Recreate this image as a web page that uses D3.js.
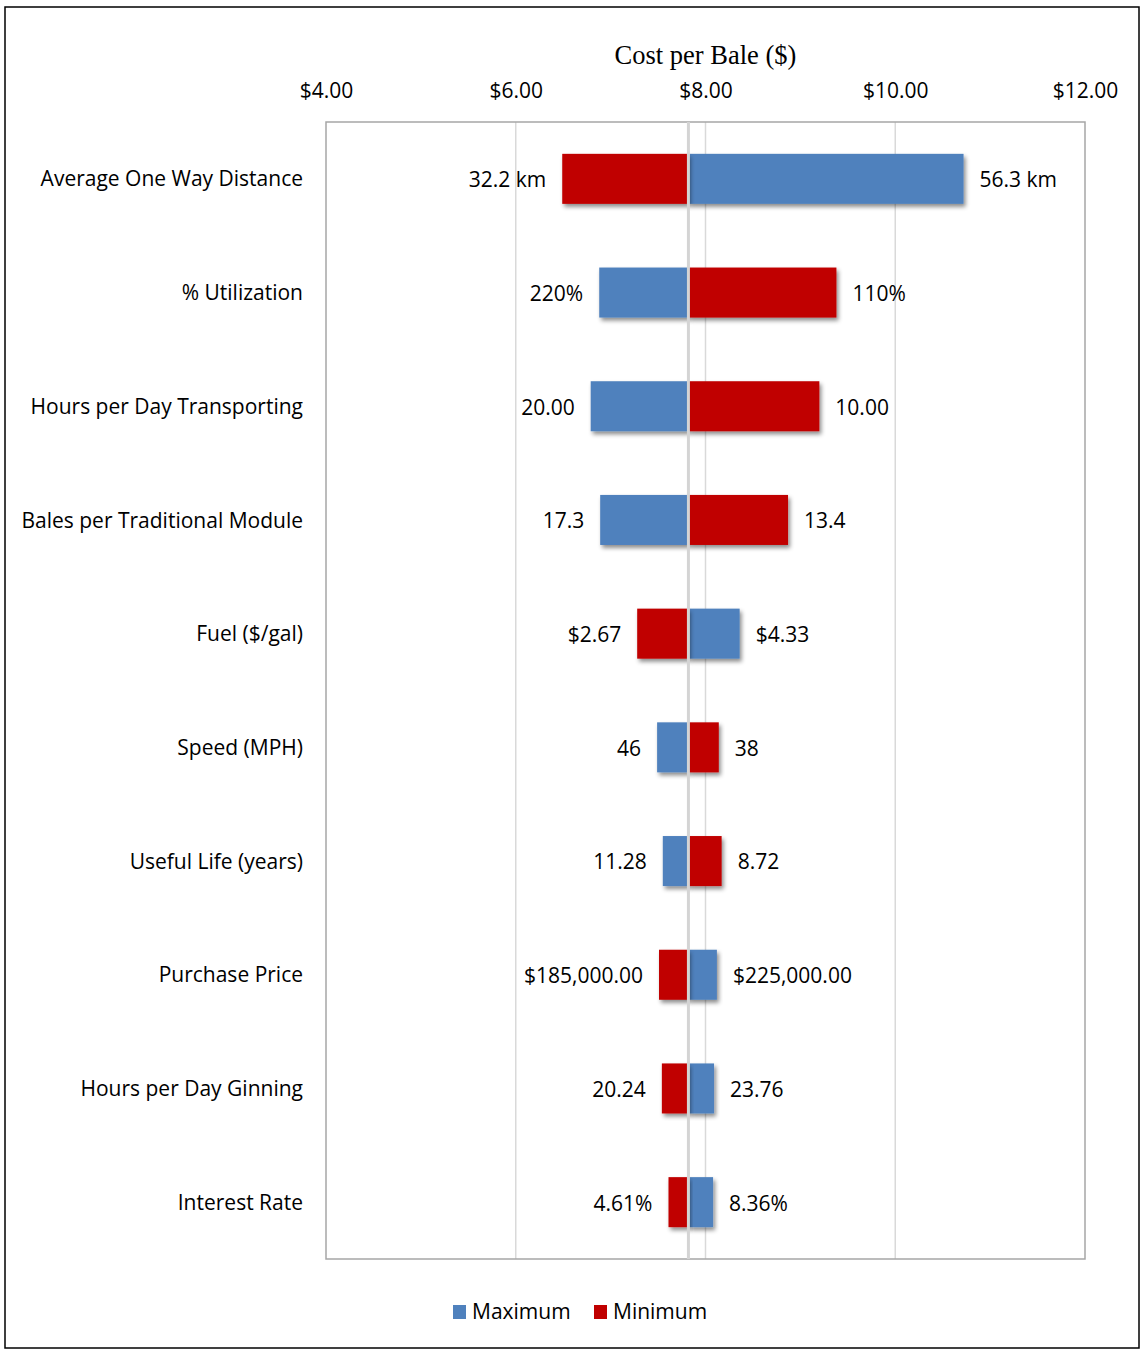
<!DOCTYPE html>
<html>
<head>
<meta charset="utf-8">
<script src="https://cdn.jsdelivr.net/npm/d3@7"></script>
<style>
  html, body { margin: 0; padding: 0; background: #fff; }
  svg { display: block; }
  text { font-family: "Open Sans", "Noto Sans", sans-serif; fill: #000; }
</style>
</head>
<body>
<svg id="chart" width="1142" height="1350"></svg>
<script>
// Sensitivity of cost per bale to each input, tested at its maximum and minimum value
const categories = [
  "Average One Way Distance",
  "% Utilization",
  "Hours per Day Transporting",
  "Bales per Traditional Module",
  "Fuel ($/gal)",
  "Speed (MPH)",
  "Useful Life (years)",
  "Purchase Price",
  "Hours per Day Ginning",
  "Interest Rate"
];
// Cost per bale ($) when the input is set to its maximum value
const maxCost = [10.72, 6.88, 6.79, 6.89, 8.36, 7.49, 7.55, 8.12, 8.09, 8.08];
// Cost per bale ($) when the input is set to its minimum value
const minCost = [6.49, 9.38, 9.20, 8.87, 7.28, 8.14, 8.17, 7.51, 7.54, 7.61];
// Input values shown next to each bar
const maxLabels = ["56.3 km", "220%", "20.00", "17.3", "$4.33", "46", "11.28", "$225,000.00", "23.76", "8.36%"];
const minLabels = ["32.2 km", "110%", "10.00", "13.4", "$2.67", "38", "8.72", "$185,000.00", "20.24", "4.61%"];
// Base-case cost per bale
const baseCost = 7.82;
const xTicks = [4, 6, 8, 10, 12];
const seriesNames = ["Maximum", "Minimum"];

const colors = { Maximum: "#4F81BD", Minimum: "#C00000" };

const svg = d3.select("#chart");
const plot = { left: 326, right: 1085, top: 122, bottom: 1259 };

// Outer frame
svg.append("rect")
  .attr("x", 5).attr("y", 7).attr("width", 1134).attr("height", 1341)
  .attr("fill", "#fff").attr("stroke", "#000").attr("stroke-width", 1.5);

const defs = svg.append("defs");
const shadow = defs.append("filter").attr("id", "barShadow")
  .attr("x", "-20%").attr("y", "-20%").attr("width", "140%").attr("height", "150%");
shadow.append("feDropShadow")
  .attr("dx", 2).attr("dy", 3).attr("stdDeviation", 2)
  .attr("flood-color", "#000").attr("flood-opacity", 0.45);

const x = d3.scaleLinear().domain([4, 12]).range([plot.left, plot.right]);
const y = d3.scaleBand().domain(categories)
  .range([plot.top, plot.bottom]).paddingInner(0.56).paddingOuter(0.28);

// Vertical gridlines
svg.append("g").selectAll("line").data(xTicks.slice(1, -1)).join("line")
  .attr("x1", d => x(d)).attr("x2", d => x(d))
  .attr("y1", plot.top).attr("y2", plot.bottom)
  .attr("stroke", "#d9d9d9").attr("stroke-width", 1.5);

// Plot area border
svg.append("rect")
  .attr("x", plot.left).attr("y", plot.top)
  .attr("width", plot.right - plot.left).attr("height", plot.bottom - plot.top)
  .attr("fill", "none").attr("stroke", "#a6a6a6").attr("stroke-width", 1.5);

// Top axis tick labels
const xAxis = d3.axisTop(x).tickValues(xTicks).tickSize(0).tickPadding(0)
  .tickFormat(d => "$" + d3.format(".2f")(d));
const gx = svg.append("g").attr("transform", `translate(0,${plot.top - 24})`).call(xAxis);
gx.select(".domain").remove();
gx.selectAll("text").attr("font-size", 21).attr("font-family", "'Open Sans', sans-serif").attr("fill", "#000");

// Axis title
svg.append("text")
  .attr("x", (plot.left + plot.right) / 2).attr("y", 64)
  .attr("text-anchor", "middle")
  .style("font-family", "'Liberation Serif', 'Times New Roman', serif")
  .attr("font-size", 26.5)
  .text("Cost per Bale ($)");

// Bars
const rows = categories.map((c, i) => ({
  cat: c,
  bars: [
    { series: "Maximum", value: maxCost[i], label: maxLabels[i] },
    { series: "Minimum", value: minCost[i], label: minLabels[i] }
  ]
}));

const barG = svg.append("g");
rows.forEach(r => {
  r.bars.forEach(b => {
    const x0 = Math.min(x(baseCost), x(b.value));
    const x1 = Math.max(x(baseCost), x(b.value));
    barG.append("rect")
      .attr("x", x0).attr("y", y(r.cat))
      .attr("width", x1 - x0).attr("height", y.bandwidth())
      .attr("fill", colors[b.series])
      .attr("filter", "url(#barShadow)");
  });
});

// Base-case line
svg.append("line")
  .attr("x1", x(baseCost)).attr("x2", x(baseCost))
  .attr("y1", plot.top).attr("y2", plot.bottom)
  .attr("stroke", "#d4d4d4").attr("stroke-width", 3);

// Value labels at the outer end of each bar
const labelG = svg.append("g");
rows.forEach(r => {
  r.bars.forEach(b => {
    const left = b.value < baseCost;
    labelG.append("text")
      .attr("x", x(b.value) + (left ? -16 : 16))
      .attr("y", y(r.cat) + y.bandwidth() / 2 + 1)
      .attr("dy", "0.35em")
      .attr("text-anchor", left ? "end" : "start")
      .attr("font-size", 21)
      .text(b.label);
  });
});

// Category labels
svg.append("g").selectAll("text").data(categories).join("text")
  .attr("x", 303)
  .attr("y", d => y(d) + y.bandwidth() / 2)
  .attr("dy", "0.36em")
  .attr("text-anchor", "end")
  .attr("font-size", 21)
  .text(d => d);

// Legend
const legend = svg.append("g").attr("transform", "translate(453,1312)");
let lx = 0;
seriesNames.forEach(s => {
  const g = legend.append("g").attr("transform", `translate(${lx},0)`);
  g.append("rect").attr("x", 0).attr("y", -7).attr("width", 13).attr("height", 14)
    .attr("fill", colors[s]);
  g.append("text").attr("x", 19).attr("y", 0).attr("dy", "0.35em")
    .attr("font-size", 21).text(s);
  lx += 141;
});
</script>
</body>
</html>
